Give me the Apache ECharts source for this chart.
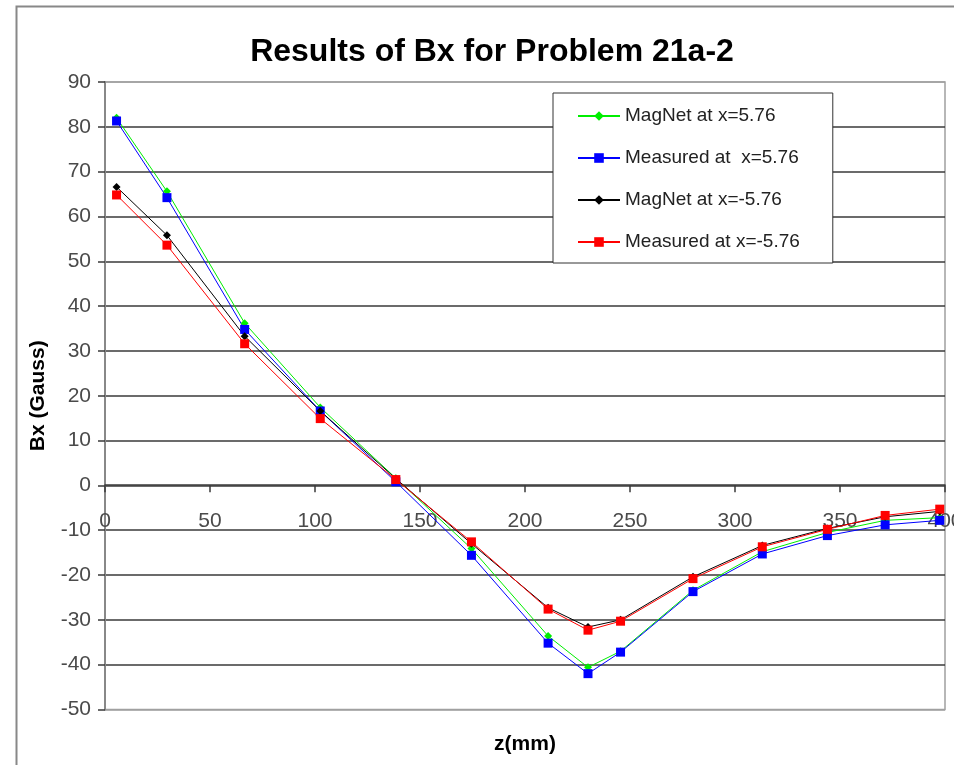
<!DOCTYPE html>
<html>
<head>
<meta charset="utf-8">
<script src="https://cdn.jsdelivr.net/npm/echarts@6/dist/echarts.min.js"></script>
<style>
html,body{margin:0;padding:0;background:#fff;}
#chart{width:954px;height:765px;}
</style>
</head>
<body>
<div id="chart"></div>
<script>
// z positions (mm)
var zPos = [5.5, 29.5, 66.5, 102.5, 138.5, 174.5, 211, 230, 245.5, 280, 313, 344, 371.5, 397.5];
// Bx values (Gauss)
var magnetPos   = [82.0, 65.6, 36.2, 17.4, 1.6, -14.1, -33.6, -40.6, -37.0, -23.4, -14.8, -10.5, -7.8, -7.2];
var measuredPos = [81.3, 64.2, 34.8, 16.6, 0.8, -15.6, -35.2, -42.0, -37.2, -23.7, -15.3, -11.2, -8.8, -7.8];
var magnetNeg   = [66.6, 55.8, 33.3, 16.6, 1.5, -13.0, -27.3, -31.6, -30.0, -20.4, -13.4, -9.6, -7.0, -5.8];
var measuredNeg = [64.8, 53.6, 31.6, 14.9, 1.3, -12.6, -27.6, -32.3, -30.3, -20.8, -13.7, -9.8, -6.7, -5.3];
var seriesNames = ['MagNet at x=5.76', 'Measured at  x=5.76', 'MagNet at x=-5.76', 'Measured at x=-5.76'];
var titleText = 'Results of Bx for Problem 21a-2';
var xName = 'z(mm)';
var yName = 'Bx (Gauss)';

function pairs(vals) { return zPos.map(function (z, i) { return [z, vals[i]]; }); }

var font = '"Liberation Sans", Arial, sans-serif';
var splitColors = [];
for (var i = 0; i < 15; i++) splitColors.push(i === 0 || i === 14 ? '#a0a0a0' : '#3a3a3a');

function mk(name, vals, color, symbol, size) {
  return {
    name: name, type: 'line', data: pairs(vals),
    symbol: symbol, symbolSize: size, showSymbol: true,
    lineStyle: { color: color, width: 1 },
    itemStyle: { color: color },
    emphasis: { disabled: true },
    animation: false
  };
}

var chart = echarts.init(document.getElementById('chart'));
chart.setOption({
  animation: false,
  backgroundColor: '#fff',
  textStyle: { fontFamily: font },
  title: {
    text: titleText, left: 492, top: 36, textAlign: 'center', padding: 0,
    textStyle: { fontFamily: font, fontSize: 32, fontWeight: 'bold', color: '#000' }
  },
  graphic: [{
    type: 'rect', left: 14, top: 4, silent: true, z: -1,
    shape: { x: 0, y: 0, width: 960, height: 800 },
    style: { fill: 'none', stroke: '#888', lineWidth: 2 }
  }],
  legend: {
    orient: 'vertical', left: 553, top: 93,
    padding: [13, 33, 11, 24], itemGap: 22, itemWidth: 42, itemHeight: 12,
    borderColor: '#333', borderWidth: 1, backgroundColor: '#fff',
    textStyle: { fontFamily: font, fontSize: 19, color: '#222', lineHeight: 20 },
    data: seriesNames
  },
  grid: {
    left: 105, right: 9, top: 82, bottom: 55.5, show: true,
    outerBoundsMode: 'none', containLabel: false,
    borderColor: '#a0a0a0', borderWidth: 1.5, backgroundColor: 'transparent'
  },
  xAxis: {
    type: 'value', min: 0, max: 400, interval: 50,
    position: 'bottom', offset: -224.3,
    name: xName, nameLocation: 'middle', nameGap: 249, nameMoveOverlap: false,
    nameTextStyle: { fontFamily: font, fontSize: 21, fontWeight: 'bold', color: '#000' },
    axisLine: { onZero: false, lineStyle: { color: '#3a3a3a', width: 1.5 } },
    axisTick: { show: true, inside: false, length: 7, lineStyle: { color: '#3a3a3a', width: 1.5 } },
    axisLabel: { margin: 26, fontFamily: font, fontSize: 21, color: '#4a4a4a', showMaxLabel: true, showMinLabel: true },
    splitLine: { show: false }
  },
  yAxis: {
    type: 'value', min: -50, max: 90, interval: 10,
    name: yName, nameLocation: 'middle', nameGap: 56, nameRotate: 90, nameMoveOverlap: false,
    nameTextStyle: { fontFamily: font, fontSize: 21, fontWeight: 'bold', color: '#000' },
    axisLine: { show: true, onZero: false, lineStyle: { color: '#888', width: 2 } },
    axisTick: { show: true, inside: false, length: 7, lineStyle: { color: '#3a3a3a', width: 1.5 } },
    axisLabel: { margin: 14, fontFamily: font, fontSize: 21, color: '#4a4a4a' },
    splitLine: { show: true, lineStyle: { color: splitColors, width: 1.5 } }
  },
  series: [
    mk(seriesNames[0], magnetPos, '#00ee00', 'diamond', 8),
    mk(seriesNames[1], measuredPos, '#0000ff', 'rect', 9),
    mk(seriesNames[2], magnetNeg, '#000000', 'diamond', 8),
    mk(seriesNames[3], measuredNeg, '#ff0000', 'rect', 9)
  ]
});
</script>
</body>
</html>
